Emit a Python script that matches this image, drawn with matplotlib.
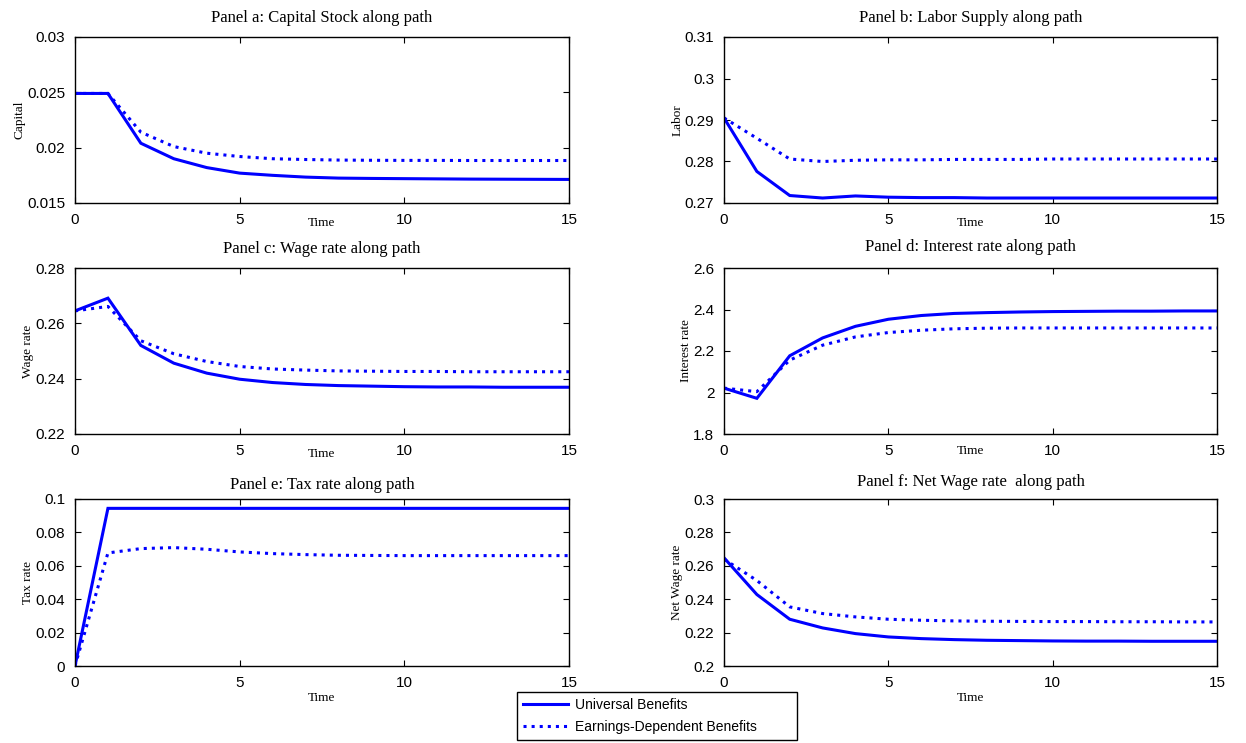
import matplotlib.pyplot as plt

# time axis shared by all panels
t = list(range(16))

# Panel a: capital
cap_univ = [0.0249, 0.0249, 0.0204, 0.0190, 0.0182, 0.0177, 0.0175, 0.01734, 0.01725, 0.01722,
            0.0172, 0.01718, 0.01716, 0.01715, 0.01714, 0.01713]
cap_earn = [0.0249, 0.0249, 0.0214, 0.0201, 0.0195, 0.0192, 0.0190, 0.01893, 0.01888, 0.01886,
            0.01885, 0.01885, 0.01884, 0.01884, 0.01884, 0.01884]

# Panel b: labor
lab_univ = [0.2905, 0.2776, 0.2718, 0.2712, 0.2717, 0.2714, 0.2713, 0.2713, 0.2712, 0.2712,
            0.2712, 0.2712, 0.2712, 0.2712, 0.2712, 0.2712]
lab_earn = [0.2905, 0.2856, 0.2806, 0.2800, 0.2803, 0.2804, 0.2804, 0.2805, 0.2805, 0.2805,
            0.2806, 0.2806, 0.2806, 0.2806, 0.2806, 0.2806]

# Panel c: wage rate
wage_univ = [0.2645, 0.2691, 0.2520, 0.2456, 0.2420, 0.2398, 0.2386, 0.2379, 0.2375, 0.2373,
             0.2371, 0.2370, 0.2370, 0.2369, 0.2369, 0.2369]
wage_earn = [0.2645, 0.2661, 0.2537, 0.2490, 0.2462, 0.2444, 0.2435, 0.2431, 0.2428, 0.2427,
             0.2426, 0.2426, 0.2425, 0.2425, 0.2425, 0.2425]

# Panel d: interest rate
int_univ = [2.021, 1.972, 2.177, 2.263, 2.319, 2.353, 2.371, 2.381, 2.385, 2.388,
            2.390, 2.391, 2.392, 2.392, 2.393, 2.393]
int_earn = [2.021, 2.004, 2.156, 2.228, 2.268, 2.289, 2.300, 2.307, 2.310, 2.311,
            2.311, 2.311, 2.311, 2.311, 2.311, 2.311]

# Panel e: tax rate
tax_univ = [0.0, 0.0944, 0.0944, 0.0944, 0.0944, 0.0944, 0.0944, 0.0944, 0.0944, 0.0944,
            0.0944, 0.0944, 0.0944, 0.0944, 0.0944, 0.0944]
tax_earn = [0.0, 0.0677, 0.0703, 0.0709, 0.0699, 0.0683, 0.0673, 0.0667, 0.0663, 0.0662,
            0.0661, 0.0661, 0.0661, 0.0661, 0.0661, 0.0661]

# Panel f: net wage rate
net_univ = [0.2648, 0.2428, 0.2280, 0.2228, 0.2194, 0.2174, 0.2164, 0.2158, 0.2154, 0.2152,
            0.2150, 0.2149, 0.2149, 0.2148, 0.2148, 0.2148]
net_earn = [0.2640, 0.2512, 0.2354, 0.2314, 0.2294, 0.2280, 0.2274, 0.2270, 0.2268, 0.2267,
            0.2266, 0.2266, 0.2265, 0.2265, 0.2264, 0.2264]

titles = ["Panel a: Capital Stock along path", "Panel b: Labor Supply along path",
          "Panel c: Wage rate along path", "Panel d: Interest rate along path",
          "Panel e: Tax rate along path", "Panel f: Net Wage rate  along path"]
ylabels = ["Capital", "Labor", "Wage rate", "Interest rate", "Tax rate", "Net Wage rate"]
ylims = [(0.015, 0.03), (0.27, 0.31), (0.22, 0.28), (1.8, 2.6), (0.0, 0.1), (0.2, 0.3)]
yticks = [[0.015, 0.02, 0.025, 0.03], [0.27, 0.28, 0.29, 0.3, 0.31],
          [0.22, 0.24, 0.26, 0.28], [1.8, 2.0, 2.2, 2.4, 2.6],
          [0, 0.02, 0.04, 0.06, 0.08, 0.1], [0.2, 0.22, 0.24, 0.26, 0.28, 0.3]]
ytick_labels = [["0.015", "0.02", "0.025", "0.03"], ["0.27", "0.28", "0.29", "0.3", "0.31"],
                ["0.22", "0.24", "0.26", "0.28"], ["1.8", "2", "2.2", "2.4", "2.6"],
                ["0", "0.02", "0.04", "0.06", "0.08", "0.1"],
                ["0.2", "0.22", "0.24", "0.26", "0.28", "0.3"]]
series = [(cap_univ, cap_earn), (lab_univ, lab_earn), (wage_univ, wage_earn),
          (int_univ, int_earn), (tax_univ, tax_earn), (net_univ, net_earn)]

# axes rectangles in pixels (left, top, right, bottom)
W, H = 1246, 743
boxes = [(75, 37, 569, 203), (724, 37, 1217, 203),
         (75, 268, 569, 434), (724, 268, 1217, 434),
         (75, 499, 569, 666), (724, 499, 1217, 666)]
title_pad = [10.5, 10.5, 11, 12, 7, 9]
xlabel_pad = [-7, -7, -7, -9, 1.5, 1.5]

serif = "Liberation Serif"
sans = "Liberation Sans"

fig = plt.figure(figsize=(W / 100, H / 100), dpi=100)
blue = "#0000ff"
handles = None
for i in range(6):
    x0, y0, x1, y1 = boxes[i]
    ax = fig.add_axes([x0 / W, 1 - y1 / H, (x1 - x0) / W, (y1 - y0) / H])
    univ, earn = series[i]
    l1, = ax.plot(t, univ, color=blue, lw=2.2, solid_joinstyle="miter")
    l2, = ax.plot(t, earn, color=blue, lw=2.2, linestyle=":")
    handles = (l1, l2)
    ax.set_xlim(0, 15)
    ax.set_ylim(*ylims[i])
    ax.set_xticks([0, 5, 10, 15])
    ax.set_xticklabels(["0", "5", "10", "15"], fontfamily=sans, fontsize=11)
    ax.set_yticks(yticks[i])
    ax.set_yticklabels(ytick_labels[i], fontfamily=sans, fontsize=11)
    ax.tick_params(direction="in", top=True, right=True, length=4, width=0.8, pad=7)
    for s in ax.spines.values():
        s.set_linewidth(1.0)
    ax.set_title(titles[i], fontfamily=serif, fontsize=12, pad=title_pad[i])
    ax.set_ylabel(ylabels[i], fontfamily=serif, fontsize=9.5, labelpad=1)
    ax.set_xlabel("Time", fontfamily=serif, fontsize=9.5, labelpad=xlabel_pad[i])

leg = fig.legend(handles, ["Universal Benefits", "Earnings-Dependent Benefits"],
                 loc="center", mode="expand",
                 bbox_to_anchor=(517 / W, 1 - 741 / H, 280 / W, 50 / H),
                 prop={"family": sans, "size": 10}, fancybox=False, framealpha=1,
                 edgecolor="black", handlelength=3.3, handletextpad=0.5,
                 borderpad=0.4, labelspacing=0.6, borderaxespad=0)
leg.get_frame().set_linewidth(1.0)

fig.savefig("out.png", dpi=100)
